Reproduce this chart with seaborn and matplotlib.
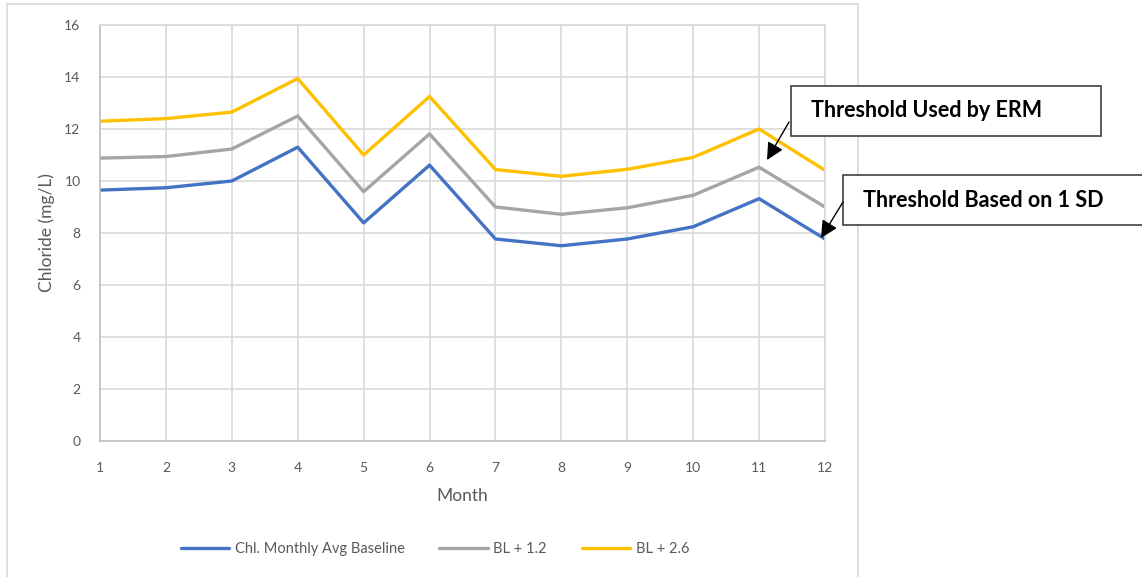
import pandas as pd
import matplotlib
matplotlib.use("Agg")
import matplotlib.pyplot as plt
import seaborn as sns
from matplotlib.patches import Rectangle, FancyArrowPatch

months = [1, 2, 3, 4, 5, 6, 7, 8, 9, 10, 11, 12]
baseline = [9.65, 9.74, 10.0, 11.3, 8.39, 10.61, 7.77, 7.51, 7.77, 8.24, 9.32, 7.77]
bl_12 = [10.88, 10.94, 11.23, 12.5, 9.59, 11.81, 9.0, 8.72, 8.97, 9.45, 10.53, 9.0]
bl_26 = [12.3, 12.4, 12.65, 13.94, 11.0, 13.25, 10.44, 10.18, 10.45, 10.91, 12.0, 10.41]
series_names = ["Chl. Monthly Avg Baseline", "BL + 1.2", "BL + 2.6"]
colors = ["#4472C4", "#A5A5A5", "#FFC000"]
y_ticks = [0, 2, 4, 6, 8, 10, 12, 14, 16]

df = pd.concat([
    pd.DataFrame({"Month": months, "Chloride": vals, "Series": name})
    for name, vals in zip(series_names, [baseline, bl_12, bl_26])
])

sns.set_style("white")
plt.rcParams["font.family"] = ["Lato", "DejaVu Sans"]

W, H = 1142, 577
fig = plt.figure(figsize=(W / 100, H / 100), dpi=100)
ax = fig.add_axes([100 / W, 1 - 441 / H, 725 / W, 416 / H])

sns.lineplot(data=df, x="Month", y="Chloride", hue="Series",
             palette=dict(zip(series_names, colors)), linewidth=2.4, ax=ax)

ax.set_xlim(1, 12)
ax.set_ylim(0, 16)
ax.set_xticks(months)
ax.set_yticks(y_ticks)
ax.grid(True, color="#D9D9D9", linewidth=1.2)
for s in ax.spines.values():
    s.set_color("#D9D9D9")
    s.set_linewidth(1.2)
ax.spines["left"].set_color("#BFBFBF")
ax.spines["bottom"].set_color("#BFBFBF")
ax.tick_params(length=0, labelsize=10, labelcolor="#595959")
ax.tick_params(axis="x", pad=15)
ax.tick_params(axis="y", pad=14)
ax.set_xlabel("Month", fontsize=12.5, color="#595959", labelpad=10)
ax.set_ylabel("Chloride (mg/L)", fontsize=12.5, color="#595959", labelpad=7)

handles, labels = ax.get_legend_handles_labels()
ax.legend_.remove()
fig.legend(handles, labels, loc="center", bbox_to_anchor=(435 / W, 1 - 549 / H),
           ncol=3, frameon=False, fontsize=10.5, labelcolor="#595959",
           handlelength=3.3, columnspacing=2.4, handletextpad=0.4)

# chart area border
fig.add_artist(Rectangle((7 / W, -0.01), 851 / W, 1.01 - 4 / H, transform=fig.transFigure,
                         fill=False, edgecolor="#D9D9D9", linewidth=1.2))


def px(x, y):
    return (x / W, 1 - y / H)


# callout boxes
boxes = [
    (791, 86, 310, 50, "Threshold Used by ERM", 811, 111, (789, 122), (767, 160)),
    (843, 175, 310, 50, "Threshold Based on 1 SD", 863, 201, (843, 202), (821, 238)),
]
for bx, by, bw, bh, txt, tx, ty, a0, a1 in boxes:
    x0, y0 = px(bx, by + bh)
    fig.add_artist(Rectangle((x0, y0), bw / W, bh / H, transform=fig.transFigure,
                             facecolor="white", edgecolor="#404040", linewidth=1.2))
    fig.text(*px(tx, ty), txt, fontsize=15.5, fontweight="bold", color="black",
             ha="left", va="center")
    fig.add_artist(FancyArrowPatch(px(*a0), px(*a1), transform=fig.transFigure,
                                   arrowstyle="-|>", mutation_scale=26,
                                   color="black", linewidth=1, shrinkA=0, shrinkB=0))

fig.savefig("out.png", dpi=100)
